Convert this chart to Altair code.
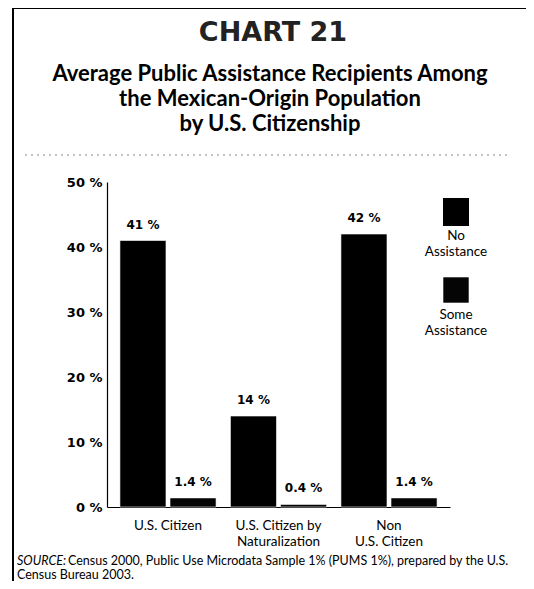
import altair as alt
import pandas as pd

# ---- data ----
categories = ["U.S. Citizen", "U.S. Citizen by Naturalization", "Non U.S. Citizen"]
series = ["No Assistance", "Some Assistance"]
no_assistance = [41, 14, 42]
some_assistance = [1.4, 0.4, 1.4]
labels_no = ["41 %", "14 %", "42 %"]
labels_some = ["1.4 %", "0.4 %", "1.4 %"]
y_ticks = [0, 10, 20, 30, 40, 50]

chart_label = "CHART 21"
title_lines = ["Average Public Assistance Recipients Among",
               "the Mexican-Origin Population",
               "by U.S. Citizenship"]
source_prefix = "SOURCE:"
source_line1 = "Census 2000, Public Use Microdata Sample 1% (PUMS 1%), prepared by the U.S."
source_line2 = "Census Bureau 2003."

rows = []
for c, v, l in zip(categories, no_assistance, labels_no):
    rows.append({"category": c, "series": series[0], "value": v, "label": l})
for c, v, l in zip(categories, some_assistance, labels_some):
    rows.append({"category": c, "series": series[1], "value": v, "label": l})
df = pd.DataFrame(rows)

label_expr = ("datum.value == 'U.S. Citizen by Naturalization' ? ['U.S. Citizen by', 'Naturalization'] : "
              "datum.value == 'Non U.S. Citizen' ? ['Non', 'U.S. Citizen'] : datum.value")

color_scale = alt.Scale(domain=series, range=["#000000", "#050505"])

x_enc = alt.X("category:N", sort=categories,
              scale=alt.Scale(paddingInner=0.13, paddingOuter=0.117),
              axis=alt.Axis(title=None, labelAngle=0, labelExpr=label_expr,
                            labelFont="Lato", labelFontSize=13.5, labelColor="black",
                            labelLineHeight=16, labelPadding=11,
                            ticks=False, domainColor="black", domainWidth=1.2))
xo_enc = alt.XOffset("series:N", sort=series, scale=alt.Scale(paddingInner=0.08, paddingOuter=0))
y_enc = alt.Y("value:Q", scale=alt.Scale(domain=[0, 50]),
              axis=alt.Axis(title=None, values=y_ticks, labelExpr="datum.value + ' %'",
                            labelFont="DejaVu Sans", labelFontWeight="bold", labelFontSize=13,
                            labelColor="black", labelPadding=5, ticks=False, grid=False,
                            domainColor="black", domainWidth=1.2))

bars = alt.Chart(df).mark_bar(stroke="#ffffff", strokeWidth=0.6).encode(
    x=x_enc, xOffset=xo_enc, y=y_enc,
    color=alt.Color("series:N", scale=color_scale, legend=None),
)

values = alt.Chart(df).mark_text(dy=-16, font="DejaVu Sans", fontWeight="bold",
                                 fontSize=12, color="black").encode(
    x=alt.X("category:N", sort=categories), xOffset=alt.XOffset("series:N", sort=series),
    y="value:Q", text="label:N")

one = pd.DataFrame({"k": [0]})

def text_layer(txt, x, y, **kw):
    return alt.Chart(one).mark_text(**kw).encode(
        x=alt.value(x), y=alt.value(y), text=alt.value(txt))

legend_no = alt.Chart(pd.DataFrame({"series": [series[0]]})).mark_rect().encode(
    x=alt.value(336), x2=alt.value(362), y=alt.value(16), y2=alt.value(44),
    color=alt.Color("series:N", scale=color_scale, legend=None))
legend_some = alt.Chart(pd.DataFrame({"series": [series[1]]})).mark_rect(
    stroke="#ffffff", strokeWidth=0.6).encode(
    x=alt.value(336), x2=alt.value(362), y=alt.value(95), y2=alt.value(121),
    color=alt.Color("series:N", scale=color_scale, legend=None))

leg_txt1 = text_layer(["No", "Assistance"], 349, 54, font="Lato", fontSize=13.5,
                      lineHeight=16, align="center", baseline="middle", color="black")
leg_txt2 = text_layer(["Some", "Assistance"], 349, 133, font="Lato", fontSize=13.5,
                      lineHeight=16, align="center", baseline="middle", color="black")

chart_t = text_layer(chart_label, 166, -149, font="DejaVu Sans", fontWeight="bold",
                     fontSize=27, align="center", baseline="middle", color="#222222")
title_t = text_layer(title_lines, 163, -108, font="Lato", fontWeight="bold", fontSize=22,
                     lineHeight=25, align="center", baseline="middle", color="black")

src1a = text_layer(source_prefix, -90, 379, font="Lato", fontStyle="italic", fontSize=12.5,
                   align="left", baseline="middle", color="black")
src1b = text_layer(source_line1, -39, 379, font="Lato", fontSize=12.5,
                   align="left", baseline="middle", color="black")
src2 = text_layer(source_line2, -90, 393, font="Lato", fontSize=12.5,
                  align="left", baseline="middle", color="black")

left_border = alt.Chart(one).mark_rule(color="black", strokeWidth=2).encode(
    x=alt.value(-94), y=alt.value(-174), y2=alt.value(410))
top_border = alt.Chart(one).mark_rule(color="black", strokeWidth=2).encode(
    x=alt.value(-94), x2=alt.value(430), y=alt.value(-174))
divider = alt.Chart(one).mark_rule(color="#888888", strokeWidth=1, strokeDash=[2, 4]).encode(
    x=alt.value(-82), x2=alt.value(403), y=alt.value(-27))

chart = alt.layer(
    bars, values, legend_no, legend_some, leg_txt1, leg_txt2,
    chart_t, title_t, src1a, src1b, src2, left_border, top_border, divider
).properties(
    width=343, height=325,
    autosize=alt.AutoSizeParams(type="none"),
    padding={"left": 99, "top": 174, "right": 76, "bottom": 74},
    background="white",
).configure_view(stroke=None)

chart.save("out.html", embed_options={"renderer": "svg", "actions": False})
